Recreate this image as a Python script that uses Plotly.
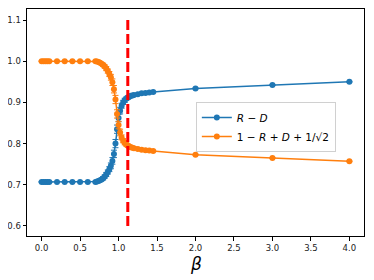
import plotly.graph_objects as go

beta = [0.0, 0.025, 0.05, 0.075, 0.1, 0.2, 0.3, 0.4, 0.5, 0.6, 0.7,
        0.72, 0.74, 0.76, 0.78, 0.80, 0.82, 0.84, 0.86, 0.88, 0.90,
        0.92, 0.94, 0.96, 0.98, 1.00, 1.02, 1.04, 1.06, 1.08, 1.10,
        1.12, 1.14, 1.16, 1.18, 1.20, 1.25, 1.30, 1.35, 1.40, 1.45,
        2.0, 3.0, 4.0]

r_minus_d = [0.707, 0.707, 0.707, 0.707, 0.707, 0.707, 0.707, 0.707, 0.707, 0.707, 0.707,
             0.708, 0.709, 0.711, 0.713, 0.716, 0.720, 0.725, 0.731, 0.738, 0.746,
             0.758, 0.775, 0.800, 0.835, 0.862, 0.880, 0.892, 0.900, 0.905, 0.909,
             0.912, 0.914, 0.916, 0.917, 0.918, 0.920, 0.922, 0.923, 0.924, 0.925,
             0.934, 0.942, 0.950]

other = [1.000, 1.000, 1.000, 1.000, 1.000, 1.000, 1.000, 1.000, 1.000, 1.000, 1.000,
         0.999, 0.998, 0.996, 0.994, 0.991, 0.987, 0.982, 0.976, 0.969, 0.961,
         0.949, 0.932, 0.907, 0.872, 0.845, 0.827, 0.815, 0.807, 0.802, 0.798,
         0.795, 0.793, 0.791, 0.790, 0.789, 0.787, 0.785, 0.784, 0.783, 0.782,
         0.773, 0.765, 0.757]

err = [0.001, 0.001, 0.001, 0.001, 0.001, 0.001, 0.001, 0.001, 0.001, 0.001, 0.002,
       0.002, 0.002, 0.003, 0.003, 0.004, 0.004, 0.005, 0.005, 0.006, 0.007,
       0.008, 0.009, 0.010, 0.010, 0.009, 0.008, 0.006, 0.005, 0.005, 0.004,
       0.004, 0.003, 0.003, 0.003, 0.003, 0.002, 0.002, 0.002, 0.002, 0.002,
       0.001, 0.001, 0.001]

beta_c = 1.12
vline_y = [0.6, 1.1]

blue = "#1f77b4"
orange = "#ff7f0e"

fig = go.Figure()
fig.add_trace(go.Scatter(
    x=beta, y=r_minus_d, mode="lines+markers", name="<i>R</i> − <i>D</i>",
    line=dict(color=blue, width=1.5), marker=dict(color=blue, size=6),
    error_y=dict(type="data", array=err, color=blue, thickness=1, width=3)))
fig.add_trace(go.Scatter(
    x=beta, y=other, mode="lines+markers", name="1 − <i>R</i> + <i>D</i> + 1/√2",
    line=dict(color=orange, width=1.5), marker=dict(color=orange, size=6),
    error_y=dict(type="data", array=err, color=orange, thickness=1, width=3)))
fig.add_trace(go.Scatter(
    x=[beta_c, beta_c], y=vline_y, mode="lines", showlegend=False,
    line=dict(color="red", width=3, dash="10px,4px")))

axis_common = dict(showline=True, linecolor="black", linewidth=1, mirror=True,
                   ticks="outside", ticklen=3.5, tickcolor="black", showgrid=False,
                   zeroline=False, automargin=False,
                   tickfont=dict(family="DejaVu Sans", size=8.5, color="#222"))

fig.update_xaxes(range=[-0.19, 4.19], tickvals=[0, 0.5, 1, 1.5, 2, 2.5, 3, 3.5, 4],
                 tickformat=".1f", **axis_common)
fig.update_yaxes(range=[0.5757, 1.1267], tickvals=[0.6, 0.7, 0.8, 0.9, 1.0, 1.1],
                 tickformat=".1f", **axis_common)

fig.add_annotation(text="<i>β</i>", xref="paper", yref="paper", x=0.5, y=-0.125,
                   xanchor="center", yanchor="middle", showarrow=False,
                   font=dict(family="DejaVu Sans", size=17, color="black"))

fig.update_layout(
    width=374, height=280,
    margin=dict(l=19, r=18, t=1, b=52),
    plot_bgcolor="white", paper_bgcolor="white",
    legend=dict(x=0.501, y=0.59, xanchor="left", yanchor="top",
                bgcolor="rgba(255,255,255,0.8)", bordercolor="#d0d0d0", borderwidth=1,
                font=dict(family="DejaVu Sans", size=10.5, color="black"),
                tracegroupgap=0),
)

fig.write_html("out.html")
